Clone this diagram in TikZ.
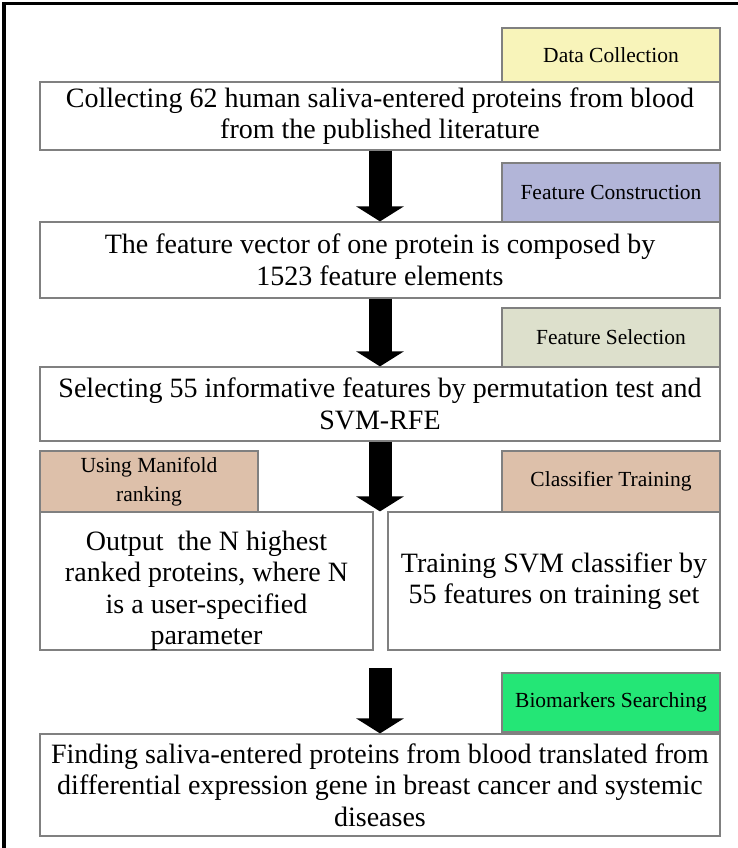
\documentclass[tikz,border=0pt]{standalone}
\usepackage{fontspec}
\setmainfont{Liberation Serif}
\usetikzlibrary{arrows.meta}
\definecolor{dcyellow}{RGB}{248,244,186}
\definecolor{fclav}{RGB}{178,181,216}
\definecolor{fsgreen}{RGB}{221,224,204}
\definecolor{tan}{RGB}{221,192,170}
\definecolor{bmgreen}{RGB}{36,230,118}
\definecolor{edgegrey}{RGB}{128,128,128}
\tikzset{
  mainfont/.style={font=\fontsize{28}{31.5}\selectfont},
  mainbox/.style={draw=edgegrey, line width=1.2pt, fill=white, align=center, inner sep=0pt, mainfont},
  tagbox/.style={draw=edgegrey, line width=1.2pt, align=center, inner sep=0pt,
    minimum width=218pt, font=\fontsize{21.5}{29.5}\selectfont},
  bigarrow/.style={line width=23pt, -{Triangle[width=47pt,length=15pt]}, black}
}
\begin{document}
\begin{tikzpicture}[x=1pt,y=-1pt]
\useasboundingbox (0,0) rectangle (738,848);
\fill[white] (0,0) rectangle (738,848);
% outer frame
\draw[line width=3.2pt, black] (4,850) -- (4,3.5) -- (740,3.5);

% tags
\node[tagbox, fill=dcyellow, minimum height=54pt] (dc) at (611,55) {Data Collection};
\node[tagbox, fill=fclav, minimum height=59pt] (fc) at (611,192.5) {Feature Construction};
\node[tagbox, fill=fsgreen, minimum height=59pt] (fs) at (611,337.5) {Feature Selection};
\node[tagbox, fill=tan, minimum height=61pt] (umr) at (149,481.5) {Using Manifold\\ranking};
\node[tagbox, fill=tan, minimum height=61pt] (ct) at (611,481.5) {Classifier Training};
\node[tagbox, fill=bmgreen, minimum height=59pt] (bm) at (611,702.5) {Biomarkers Searching};

% main boxes
\node[mainbox, minimum width=680pt, minimum height=68pt] (b1) at (380,116)
  {Collecting 62 human saliva-entered proteins from blood\\from the published literature};
\node[mainbox, minimum width=680pt, minimum height=76pt] (b2) at (380,260)
  {The feature vector of one protein is composed by\\1523 feature elements};
\node[mainbox, minimum width=680pt, minimum height=74pt] (b3) at (380,404)
  {Selecting 55 informative features by permutation test and\\SVM-RFE};
\node[mainbox, minimum width=333pt, minimum height=138pt] (lb) at (206.5,581) {};
\node[align=center, inner sep=0pt, mainfont] (lbt) at ([yshift=-10pt]lb.center)
  {Output\ \ the N highest\\ranked proteins, where N\\is a user-specified\\parameter};
\node[mainbox, minimum width=332pt, minimum height=138pt] (rb) at (554,581)
  {Training SVM classifier by\\55 features on training set};
\node[mainbox, minimum width=680pt, minimum height=102pt] (b5) at (380,785)
  {Finding saliva-entered proteins from blood translated from\\differential expression gene in breast cancer and systemic\\diseases};

% arrows
\coordinate (a4start) at (380,668);
\draw[bigarrow] (b1.south) -- (b2.north);
\draw[bigarrow] (b2.south) -- (b3.north);
\draw[bigarrow] (b3.south) -- (b3.south |- lb.north);
\draw[bigarrow] (a4start) -- (b5.north);
\end{tikzpicture}
\end{document}
